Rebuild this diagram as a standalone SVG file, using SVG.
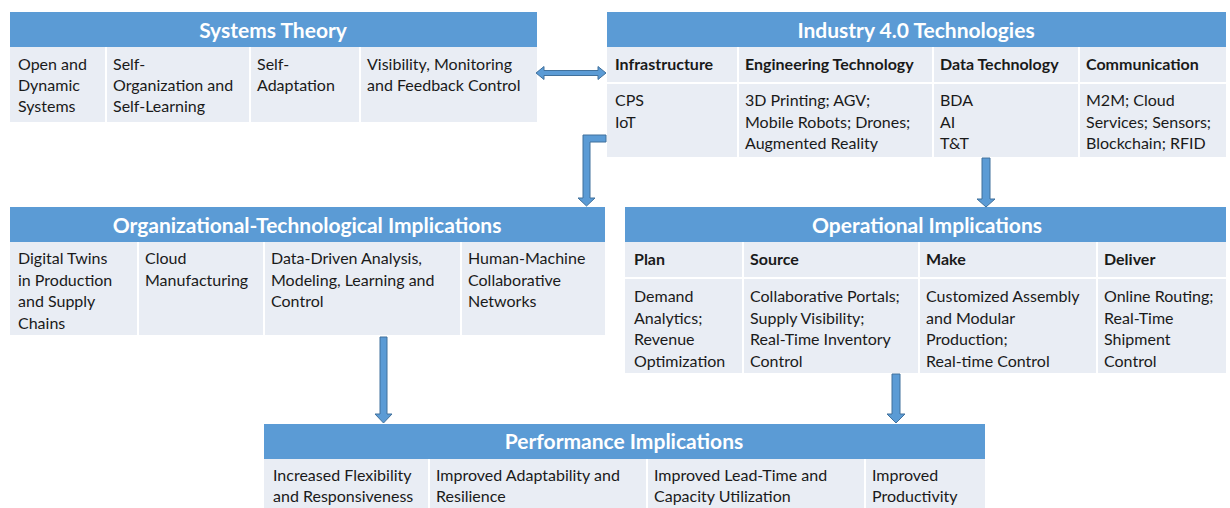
<svg xmlns="http://www.w3.org/2000/svg" width="1230" height="508" viewBox="0 0 1230 508">
<style>
.hd{fill:#5b9bd5}
.cell{fill:#e9edf4}
.sep{stroke:#ffffff;stroke-width:2}
.ttl{font-family:Lato,"Liberation Sans",sans-serif;font-size:21px;font-weight:bold;fill:#ffffff;text-anchor:middle}
.t{font-family:Lato,"Liberation Sans",sans-serif;font-size:16px;fill:#1a1a1a}
.b{font-family:Lato,"Liberation Sans",sans-serif;font-size:16px;font-weight:bold;fill:#1a1a1a}
.arr{fill:#5b9bd5;stroke:#41719c;stroke-width:1}
</style>
<rect width="1230" height="508" fill="#ffffff"/>

<g id="systems-theory">
<rect class="cell" x="10" y="47" width="527" height="75"/>
<rect class="hd" x="10" y="12" width="527" height="35"/>
<line class="sep" x1="106" y1="47" x2="106" y2="122"/>
<line class="sep" x1="250" y1="47" x2="250" y2="122"/>
<line class="sep" x1="360" y1="47" x2="360" y2="122"/>
<text class="ttl" x="273" y="38">Systems Theory</text>
<text class="t" x="18" y="70">Open and</text>
<text class="t" x="18" y="91">Dynamic</text>
<text class="t" x="18" y="112">Systems</text>
<text class="t" x="113" y="70">Self-</text>
<text class="t" x="113" y="91">Organization and</text>
<text class="t" x="113" y="112">Self-Learning</text>
<text class="t" x="257" y="70">Self-</text>
<text class="t" x="257" y="91">Adaptation</text>
<text class="t" x="367" y="70">Visibility, Monitoring</text>
<text class="t" x="367" y="91">and Feedback Control</text>
</g>

<g id="industry-40">
<rect class="cell" x="607" y="47" width="619" height="110"/>
<rect class="hd" x="607" y="12" width="619" height="35"/>
<line class="sep" x1="607" y1="83" x2="1226" y2="83"/>
<line class="sep" x1="738" y1="47" x2="738" y2="157"/>
<line class="sep" x1="933" y1="47" x2="933" y2="157"/>
<line class="sep" x1="1079" y1="47" x2="1079" y2="157"/>
<text class="ttl" x="916" y="38">Industry 4.0 Technologies</text>
<text class="b" x="615" y="70">Infrastructure</text>
<text class="b" x="745" y="70">Engineering Technology</text>
<text class="b" x="940" y="70">Data Technology</text>
<text class="b" x="1086" y="70">Communication</text>
<text class="t" x="615" y="106">CPS</text>
<text class="t" x="615" y="127.5">IoT</text>
<text class="t" x="745" y="106">3D Printing; AGV;</text>
<text class="t" x="745" y="127.5">Mobile Robots; Drones;</text>
<text class="t" x="745" y="149">Augmented Reality</text>
<text class="t" x="940" y="106">BDA</text>
<text class="t" x="940" y="127.5">AI</text>
<text class="t" x="940" y="149">T&amp;T</text>
<text class="t" x="1086" y="106">M2M; Cloud</text>
<text class="t" x="1086" y="127.5">Services; Sensors;</text>
<text class="t" x="1086" y="149">Blockchain; RFID</text>
</g>

<g id="org-tech">
<rect class="cell" x="10" y="242" width="595" height="93"/>
<rect class="hd" x="10" y="207" width="595" height="35"/>
<line class="sep" x1="138" y1="242" x2="138" y2="335"/>
<line class="sep" x1="264" y1="242" x2="264" y2="335"/>
<line class="sep" x1="461" y1="242" x2="461" y2="335"/>
<text class="ttl" x="307" y="233">Organizational-Technological Implications</text>
<text class="t" x="18" y="264">Digital Twins</text>
<text class="t" x="18" y="286">in Production</text>
<text class="t" x="18" y="307">and Supply</text>
<text class="t" x="18" y="329">Chains</text>
<text class="t" x="145" y="264">Cloud</text>
<text class="t" x="145" y="286">Manufacturing</text>
<text class="t" x="271" y="264">Data-Driven Analysis,</text>
<text class="t" x="271" y="286">Modeling, Learning and</text>
<text class="t" x="271" y="307">Control</text>
<text class="t" x="468" y="264">Human-Machine</text>
<text class="t" x="468" y="286">Collaborative</text>
<text class="t" x="468" y="307">Networks</text>
</g>

<g id="operational">
<rect class="cell" x="625" y="242" width="601" height="131"/>
<rect class="hd" x="625" y="207" width="601" height="35"/>
<line class="sep" x1="625" y1="278" x2="1226" y2="278"/>
<line class="sep" x1="743" y1="242" x2="743" y2="373"/>
<line class="sep" x1="919" y1="242" x2="919" y2="373"/>
<line class="sep" x1="1097" y1="242" x2="1097" y2="373"/>
<text class="ttl" x="927" y="233">Operational Implications</text>
<text class="b" x="634" y="265">Plan</text>
<text class="b" x="750" y="265">Source</text>
<text class="b" x="926" y="265">Make</text>
<text class="b" x="1104" y="265">Deliver</text>
<text class="t" x="634" y="302">Demand</text>
<text class="t" x="634" y="324">Analytics;</text>
<text class="t" x="634" y="345">Revenue</text>
<text class="t" x="634" y="367">Optimization</text>
<text class="t" x="750" y="302">Collaborative Portals;</text>
<text class="t" x="750" y="324">Supply Visibility;</text>
<text class="t" x="750" y="345">Real-Time Inventory</text>
<text class="t" x="750" y="367">Control</text>
<text class="t" x="926" y="302">Customized Assembly</text>
<text class="t" x="926" y="324">and Modular</text>
<text class="t" x="926" y="345">Production;</text>
<text class="t" x="926" y="367">Real-time Control</text>
<text class="t" x="1104" y="302">Online Routing;</text>
<text class="t" x="1104" y="324">Real-Time</text>
<text class="t" x="1104" y="345">Shipment</text>
<text class="t" x="1104" y="367">Control</text>
</g>

<g id="performance">
<rect class="cell" x="264" y="459" width="721" height="49"/>
<rect class="hd" x="264" y="424" width="721" height="35"/>
<line class="sep" x1="429" y1="459" x2="429" y2="508"/>
<line class="sep" x1="647" y1="459" x2="647" y2="508"/>
<line class="sep" x1="865" y1="459" x2="865" y2="508"/>
<text class="ttl" x="624" y="449">Performance Implications</text>
<text class="t" x="273" y="481">Increased Flexibility</text>
<text class="t" x="273" y="502">and Responsiveness</text>
<text class="t" x="436" y="481">Improved Adaptability and</text>
<text class="t" x="436" y="502">Resilience</text>
<text class="t" x="654" y="481">Improved Lead-Time and</text>
<text class="t" x="654" y="502">Capacity Utilization</text>
<text class="t" x="872" y="481">Improved</text>
<text class="t" x="872" y="502">Productivity</text>
</g>

<g id="connectors">
<polygon class="arr" points="536,73 544,66.5 544,70.5 598,70.5 598,66.5 606,73 598,79.5 598,75.5 544,75.5 544,79.5"/>
<polygon class="arr" points="606,135 583,135 583,198 578,198 586.5,206 595,198 590,198 590,142 606,142"/>
<polygon class="arr" points="982,158 990,158 990,199 995,199 986,207 977,199 982,199"/>
<polygon class="arr" points="380,337 387,337 387,414 392,414 383.5,423 375,414 380,414"/>
<polygon class="arr" points="892,374 900,374 900,414 905,414 896,423 887,414 892,414"/>
</g>
</svg>
